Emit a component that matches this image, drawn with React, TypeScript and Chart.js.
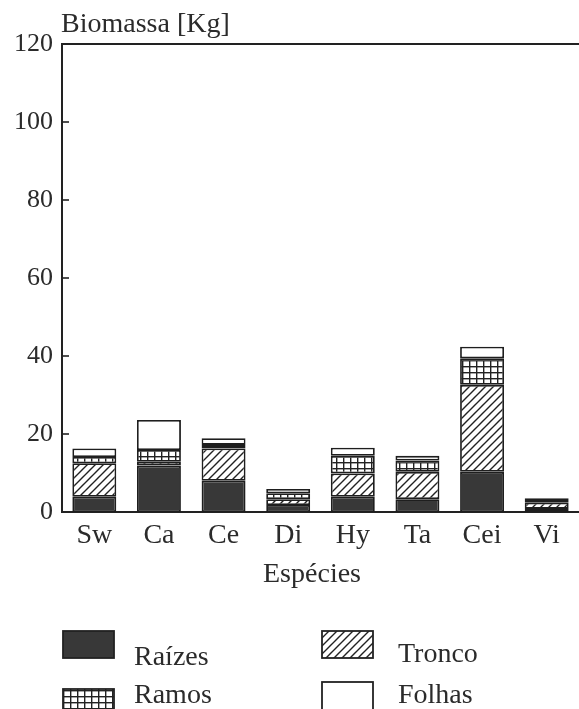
import React, { useEffect, useRef } from "react";
import { Chart, registerables } from "chart.js";

Chart.register(...registerables);

const categories = ["Sw", "Ca", "Ce", "Di", "Hy", "Ta", "Cei", "Vi"];
const raizes = [3.9, 11.9, 8.0, 1.8, 3.9, 3.3, 10.3, 0.8];
const tronco = [8.6, 1.0, 8.3, 1.5, 6.0, 7.0, 22.3, 1.6];
const ramos = [1.6, 3.0, 0.9, 1.5, 4.5, 2.9, 6.8, 0.7];
const folhas = [2.2, 7.7, 1.7, 1.1, 2.1, 1.2, 3.0, 0.4];
const yTicks = [0, 20, 40, 60, 80, 100, 120];
const seriesNames = ["Raízes", "Tronco", "Ramos", "Folhas"];

const SERIF = "'Liberation Serif', 'Times New Roman', serif";
const INK = "#2b2b2b";

function makeTile(w: number, h: number, draw: (c: CanvasRenderingContext2D) => void) {
  const cv = document.createElement("canvas");
  cv.width = w;
  cv.height = h;
  const c = cv.getContext("2d")!;
  c.fillStyle = "#ffffff";
  c.fillRect(0, 0, w, h);
  draw(c);
  return document.createElement("canvas").getContext("2d")!.createPattern(cv, "repeat")!;
}

export default function App() {
  const ref = useRef<HTMLCanvasElement>(null);

  useEffect(() => {
    const hatch = makeTile(8, 8, (c) => {
      c.strokeStyle = "#222";
      c.lineWidth = 1.4;
      c.beginPath();
      c.moveTo(0, 8);
      c.lineTo(8, 0);
      c.moveTo(-1, 1);
      c.lineTo(1, -1);
      c.moveTo(7, 9);
      c.lineTo(9, 7);
      c.stroke();
    });
    const grid = makeTile(7, 6, (c) => {
      c.fillStyle = "#222";
      c.fillRect(0, 0, 7, 1.4);
      c.fillRect(0, 0, 1.4, 6);
    });
    const dark = "#383838";
    const white = "#ffffff";
    const fills = [dark, hatch, grid, white];

    const deco = {
      id: "deco",
      afterDraw(chart: any) {
        const ctx = chart.ctx as CanvasRenderingContext2D;
        const a = chart.chartArea;
        const ys = chart.scales.y;
        ctx.save();
        ctx.strokeStyle = "#222";
        ctx.lineWidth = 2;
        ctx.beginPath();
        ctx.moveTo(a.left - 1, a.top);
        ctx.lineTo(a.right, a.top);
        ctx.stroke();
        ctx.lineWidth = 1.6;
        for (const v of yTicks) {
          if (v === 0 || v === 120) continue;
          const py = ys.getPixelForValue(v);
          ctx.beginPath();
          ctx.moveTo(a.left, py);
          ctx.lineTo(a.left + 7, py);
          ctx.stroke();
        }
        ctx.fillStyle = INK;
        ctx.font = `28px ${SERIF}`;
        ctx.textAlign = "left";
        ctx.textBaseline = "alphabetic";
        ctx.fillText("Biomassa [Kg]", 61, 32);
        ctx.font = `28px ${SERIF}`;
        ctx.textAlign = "center";
        ctx.fillText("Espécies", 312, 582);

        const legend = [
          { x: 63, y: 631, h: 27, tx: 134, ty: 665 },
          { x: 322, y: 631, h: 27, tx: 398, ty: 662 },
          { x: 63, y: 689, h: 26, tx: 134, ty: 703 },
          { x: 322, y: 682, h: 30, tx: 398, ty: 703 },
        ];
        legend.forEach((l, i) => {
          ctx.fillStyle = fills[i] as any;
          ctx.fillRect(l.x, l.y, 51, l.h);
          ctx.strokeStyle = "#222";
          ctx.lineWidth = 1.8;
          ctx.strokeRect(l.x, l.y, 51, l.h);
          ctx.fillStyle = INK;
          ctx.font = `28px ${SERIF}`;
          ctx.textAlign = "left";
          ctx.fillText(seriesNames[i], l.tx, l.ty);
        });
        ctx.restore();
      },
    };

    const values = [raizes, tronco, ramos, folhas];
    const chart = new Chart(ref.current!, {
      type: "bar",
      data: {
        labels: categories,
        datasets: values.map((d, i) => ({
          label: seriesNames[i],
          data: d,
          backgroundColor: fills[i] as any,
          borderColor: "#1e1e1e",
          borderWidth: 1.8,
          borderSkipped: false,
          barPercentage: 0.68,
          categoryPercentage: 1,
        })),
      },
      options: {
        responsive: false,
        animation: false,
        devicePixelRatio: 1,
        layout: { padding: { top: 44, left: 0, right: 0, bottom: 0 } },
        plugins: { legend: { display: false }, tooltip: { enabled: false } },
        scales: {
          x: {
            stacked: true,
            offset: true,
            grid: { display: false, drawTicks: false },
            border: { display: true, color: "#222", width: 2 },
            ticks: { color: INK, font: { family: SERIF, size: 28 }, padding: 7, maxRotation: 0, autoSkip: false },
            afterFit: (s: any) => {
              s.height = 197;
            },
          },
          y: {
            stacked: true,
            min: 0,
            max: 120,
            grid: { display: false, drawTicks: false },
            border: { display: true, color: "#222", width: 2 },
            ticks: { stepSize: 20, color: INK, font: { family: SERIF, size: 26 }, padding: 9 },
            afterFit: (s: any) => {
              s.width = 62;
            },
          },
        },
      },
      plugins: [deco],
    });
    return () => chart.destroy();
  }, []);

  return (
    <div style={{ position: "fixed", left: 0, top: 0, width: 579, height: 709, background: "#fff" }}>
      <canvas ref={ref} width={579} height={709} style={{ display: "block" }} />
    </div>
  );
}
